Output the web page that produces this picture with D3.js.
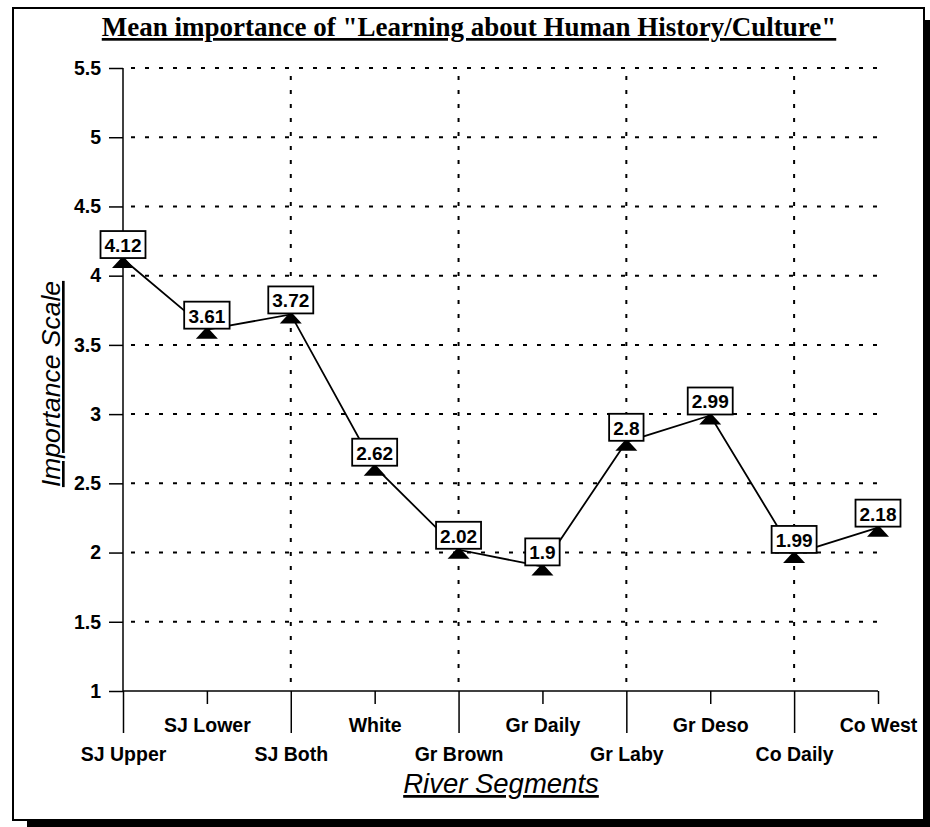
<!DOCTYPE html>
<html>
<head>
<meta charset="utf-8">
<script src="https://cdn.jsdelivr.net/npm/d3@7"></script>
<style>
  body { margin: 0; background: #fff; }
  svg { display: block; }
</style>
</head>
<body>
<div id="chart"></div>
<script>
// chart data
const segments = ["SJ Upper", "SJ Lower", "SJ Both", "White", "Gr Brown",
                  "Gr Daily", "Gr Laby", "Gr Deso", "Co Daily", "Co West"];
const meanValues = [4.12, 3.61, 3.72, 2.62, 2.02, 1.9, 2.8, 2.99, 1.99, 2.18];
const valueLabels = ["4.12", "3.61", "3.72", "2.62", "2.02", "1.9", "2.8", "2.99", "1.99", "2.18"];
const yTicks = [1, 1.5, 2, 2.5, 3, 3.5, 4, 4.5, 5, 5.5];
const titleText = 'Mean importance of "Learning about Human History/Culture"';

const W = 930, H = 827;
const plot = {left: 123, right: 878, top: 68, bottom: 691};
const sans = "'Liberation Sans', Arial, sans-serif";

const svg = d3.select("#chart").append("svg")
    .attr("width", W)
    .attr("height", H);

svg.append("rect").attr("width", W).attr("height", H).attr("fill", "#fff");

// frame with drop shadow
svg.append("rect")
    .attr("x", 924).attr("y", 20).attr("width", 6).attr("height", 807)
    .attr("fill", "#000");
svg.append("rect")
    .attr("x", 27).attr("y", 820).attr("width", 903).attr("height", 7)
    .attr("fill", "#000");
svg.append("rect")
    .attr("x", 13).attr("y", 8).attr("width", 911).attr("height", 812)
    .attr("fill", "none").attr("stroke", "#000").attr("stroke-width", 2);

const x = d3.scalePoint().domain(segments).range([plot.left, plot.right]);
const y = d3.scaleLinear().domain([1, 5.5]).range([plot.bottom, plot.top]);

// grid
const grid = svg.append("g").attr("class", "grid")
    .attr("stroke", "#000").attr("stroke-width", 2)
    .attr("stroke-dasharray", "4,10");
grid.selectAll(".hgrid")
    .data(yTicks.slice(1))
    .join("line")
    .attr("class", "hgrid")
    .attr("x1", plot.left + 8).attr("x2", plot.right + 2)
    .attr("y1", d => y(d)).attr("y2", d => y(d));
grid.selectAll(".vgrid")
    .data(segments.filter((s, i) => i % 2 === 0 && i > 0))
    .join("line")
    .attr("class", "vgrid")
    .attr("x1", d => x(d)).attr("x2", d => x(d))
    .attr("y1", plot.top + 8).attr("y2", plot.bottom);

// y axis
const yAxisG = svg.append("g")
    .attr("transform", "translate(" + plot.left + ",0)")
    .call(d3.axisLeft(y).tickValues(yTicks).tickSize(14).tickPadding(8)
        .tickFormat(d => String(d)));
yAxisG.select(".domain").attr("d", "M0," + plot.top + "V" + plot.bottom)
    .attr("stroke-width", 1.5);
yAxisG.selectAll(".tick line").attr("stroke-width", 1.5);
yAxisG.selectAll(".tick text")
    .attr("font-family", sans).attr("font-size", 19.5).attr("font-weight", "bold")
    .attr("fill", "#000");

// x axis
const xAxisG = svg.append("g")
    .attr("transform", "translate(0," + plot.bottom + ")")
    .call(d3.axisBottom(x).tickSize(42).tickPadding(0));
xAxisG.select(".domain").attr("d", "M" + plot.left + ",0H" + plot.right)
    .attr("stroke-width", 1.5);
xAxisG.selectAll(".tick line")
    .attr("stroke-width", 1.5)
    .attr("y2", (d, i) => i % 2 === 0 ? 42 : 13);
xAxisG.selectAll(".tick text")
    .attr("font-family", sans).attr("font-size", 19.5).attr("font-weight", "bold")
    .attr("fill", "#000")
    .attr("dy", null)
    .attr("y", (d, i) => i % 2 === 0 ? 70 : 41);

// series line
const pts = segments.map((s, i) => ({seg: s, v: meanValues[i], label: valueLabels[i]}));
svg.append("path")
    .datum(pts)
    .attr("fill", "none")
    .attr("stroke", "#000")
    .attr("stroke-width", 1.8)
    .attr("d", d3.line().x(d => x(d.seg)).y(d => y(d.v)));

// markers
const markerG = svg.selectAll(".markerG")
    .data(pts)
    .join("g")
    .attr("class", "markerG")
    .attr("transform", d => "translate(" + x(d.seg) + "," + y(d.v) + ")");
markerG.append("path")
    .attr("d", "M0,-3L11,9L-11,9Z")
    .attr("fill", "#000");

const boxText = markerG.append("text")
    .attr("text-anchor", "middle")
    .attr("y", -7)
    .attr("font-family", sans).attr("font-size", 19).attr("font-weight", "bold")
    .attr("fill", "#000")
    .text(d => d.label);
boxText.each(function() {
    const bb = this.getBBox();
    d3.select(this.parentNode).insert("rect", "text")
        .attr("x", -bb.width / 2 - 4)
        .attr("y", -28)
        .attr("width", bb.width + 8)
        .attr("height", 27)
        .attr("fill", "#fff")
        .attr("stroke", "#000")
        .attr("stroke-width", 1.8);
});

// title
svg.append("text")
    .attr("x", 469).attr("y", 36)
    .attr("text-anchor", "middle")
    .attr("font-family", "'Liberation Serif', 'Times New Roman', serif")
    .attr("font-size", 27).attr("font-weight", "bold")
    .attr("text-decoration", "underline")
    .text(titleText);

// axis titles
svg.append("text")
    .attr("transform", "translate(60,384) rotate(-90)")
    .attr("text-anchor", "middle")
    .attr("font-family", sans).attr("font-size", 26.5).attr("font-style", "italic")
    .attr("text-decoration", "underline")
    .text("Importance Scale");
svg.append("text")
    .attr("x", 501).attr("y", 793)
    .attr("text-anchor", "middle")
    .attr("font-family", sans).attr("font-size", 27.5).attr("font-style", "italic")
    .attr("text-decoration", "underline")
    .text("River Segments");
</script>
</body>
</html>
